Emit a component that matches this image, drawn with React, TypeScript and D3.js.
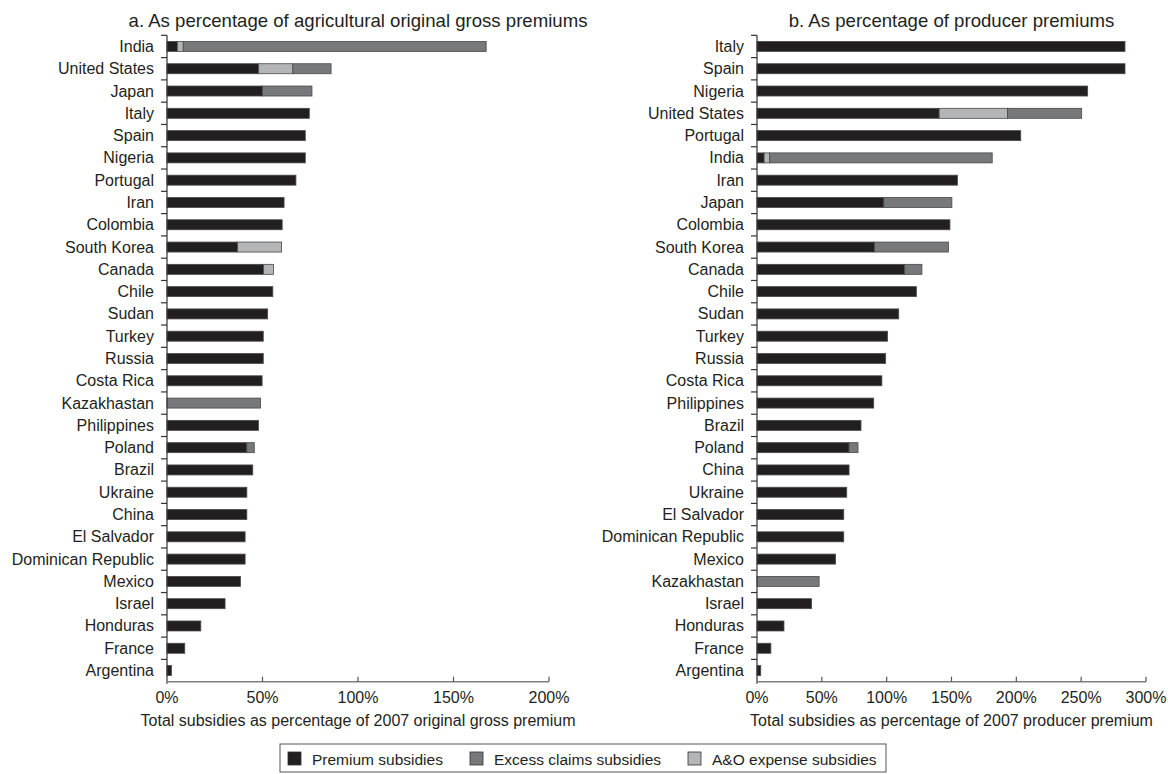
import React from "react";
import * as d3 from "d3";

const categoriesA = ["India","United States","Japan","Italy","Spain","Nigeria","Portugal","Iran","Colombia","South Korea","Canada","Chile","Sudan","Turkey","Russia","Costa Rica","Kazakhastan","Philippines","Poland","Brazil","Ukraine","China","El Salvador","Dominican Republic","Mexico","Israel","Honduras","France","Argentina"];
const premiumA = [5.4,48,50,74.5,72.4,72.4,67.5,61.3,60.3,37,50.6,55.4,52.7,50.4,50.4,49.8,0,47.9,41.8,44.9,41.8,41.8,40.9,40.9,38.5,30.4,17.7,9.3,2.3];
const aoA = [3.1,17.9,0,0,0,0,0,0,0,23,5.2,0,0,0,0,0,0,0,0,0,0,0,0,0,0,0,0,0,0];
const excessA = [158.6,20,25.9,0,0,0,0,0,0,0,0,0,0,0,0,0,49,0,3.9,0,0,0,0,0,0,0,0,0,0];

const categoriesB = ["Italy","Spain","Nigeria","United States","Portugal","India","Iran","Japan","Colombia","South Korea","Canada","Chile","Sudan","Turkey","Russia","Costa Rica","Philippines","Brazil","Poland","China","Ukraine","El Salvador","Dominican Republic","Mexico","Kazakhastan","Israel","Honduras","France","Argentina"];
const premiumB = [283.8,283.8,255,140.5,203.4,5.5,154.6,97.8,148.8,90.6,113.9,122.9,109.3,100.7,99.2,96.3,90,80.2,71,71,69.2,66.9,66.9,60.6,0,42.1,20.8,10.7,2.9];
const aoB = [0,0,0,52.8,0,4.3,0,0,0,0,0,0,0,0,0,0,0,0,0,0,0,0,0,0,0,0,0,0,0];
const excessB = [0,0,0,57.1,0,171.6,0,52.5,0,57.1,13.3,0,0,0,0,0,0,0,6.9,0,0,0,0,0,47.9,0,0,0,0];

const ticksA = [0,50,100,150,200];
const ticksB = [0,50,100,150,200,250,300];

const seriesKeys = ["premium","ao","excess"];
const seriesLabels: Record<string,string> = { premium: "Premium subsidies", excess: "Excess claims subsidies", ao: "A&O expense subsidies" };
const legendKeys = ["premium","excess","ao"];
const colors: Record<string,string> = { premium: "#231f20", excess: "#77787b", ao: "#b3b5b8" };

const FONT = "'Liberation Sans', Arial, Helvetica, sans-serif";
const TEXT = "#231f20";

type PanelProps = {
  cats: string[]; premium: number[]; ao: number[]; excess: number[];
  ticks: number[]; x0: number; x1: number; title: string; axisTitle: string;
};

function Panel({ cats, premium, ao, excess, ticks, x0, x1, title, axisTitle }: PanelProps) {
  const top = 35.3, bottom = 681.7;
  const rows = cats.map((c, i) => ({ cat: c, premium: premium[i], ao: ao[i], excess: excess[i] }));
  const x = d3.scaleLinear().domain([0, ticks[ticks.length - 1]]).range([x0, x1]);
  const y = d3.scaleBand().domain(cats).range([top, bottom]).paddingInner(0).paddingOuter(0);
  const stacked = d3.stack<any>().keys(seriesKeys)(rows);
  const barH = 10;
  const bw = y.bandwidth();
  const boundaries = d3.range(cats.length).map(i => y(cats[i]) as number);
  const midX = (x0 + x1) / 2;
  return (
    <g>
      <text x={midX} y={20} textAnchor="middle" dominantBaseline="central" fontSize={18.6} fill={TEXT} fontFamily={FONT}>{title}</text>
      {stacked.map(s => (
        <g key={s.key}>
          {s.map((d, i) => d[1] - d[0] > 0 ? (
            <rect key={i}
              x={x(d[0])} width={x(d[1]) - x(d[0])}
              y={(y(cats[i]) as number) + bw / 2 - barH / 2} height={barH}
              fill={colors[s.key]} stroke="#4a4a4a" strokeWidth={0.8} />
          ) : null)}
        </g>
      ))}
      <line x1={x0} x2={x0} y1={top} y2={bottom + 2} stroke="#333" strokeWidth={1.2} />
      {boundaries.map((b, i) => (
        <line key={i} x1={x0 - 6} x2={x0} y1={b} y2={b} stroke="#333" strokeWidth={1.2} />
      ))}
      {cats.map(c => (
        <text key={c} x={x0 - 13} y={(y(c) as number) + bw / 2} textAnchor="end" dominantBaseline="central" fontSize={16} fill={TEXT} fontFamily={FONT}>{c}</text>
      ))}
      <line x1={x0} x2={x1} y1={bottom} y2={bottom} stroke="#808080" strokeWidth={1.4} />
      {ticks.map(t => (
        <g key={t}>
          {t > 0 ? <line x1={x(t)} x2={x(t)} y1={bottom - 5} y2={bottom} stroke="#555" strokeWidth={1.2} /> : null}
          <text x={x(t)} y={697} textAnchor="middle" dominantBaseline="central" fontSize={16} fill={TEXT} fontFamily={FONT}>{t}%</text>
        </g>
      ))}
      <text x={midX} y={720} textAnchor="middle" dominantBaseline="central" fontSize={16} fill={TEXT} fontFamily={FONT}>{axisTitle}</text>
    </g>
  );
}

export default function App() {
  const legendX = [288, 470, 688];
  return (
    <svg width={1168} height={774} style={{ position: "absolute", left: 0, top: 0, background: "#fff" }}>
      <rect x={0} y={0} width={1168} height={774} fill="#fff" />
      <Panel cats={categoriesA} premium={premiumA} ao={aoA} excess={excessA} ticks={ticksA}
        x0={167} x1={549} title="a. As percentage of agricultural original gross premiums"
        axisTitle="Total subsidies as percentage of 2007 original gross premium" />
      <Panel cats={categoriesB} premium={premiumB} ao={aoB} excess={excessB} ticks={ticksB}
        x0={757} x1={1146} title="b. As percentage of producer premiums"
        axisTitle="Total subsidies as percentage of 2007 producer premium" />
      <rect x={280} y={744} width={606} height={28} fill="none" stroke="#555" strokeWidth={1} />
      {legendKeys.map((k, i) => (
        <g key={k}>
          <rect x={legendX[i]} y={752} width={13} height={13} fill={colors[k]} stroke="#333" strokeWidth={0.8} />
          <text x={legendX[i] + 24} y={759} dominantBaseline="central" fontSize={15.5} fill={TEXT} fontFamily={FONT}>
            {seriesLabels[k]}
          </text>
        </g>
      ))}
    </svg>
  );
}
